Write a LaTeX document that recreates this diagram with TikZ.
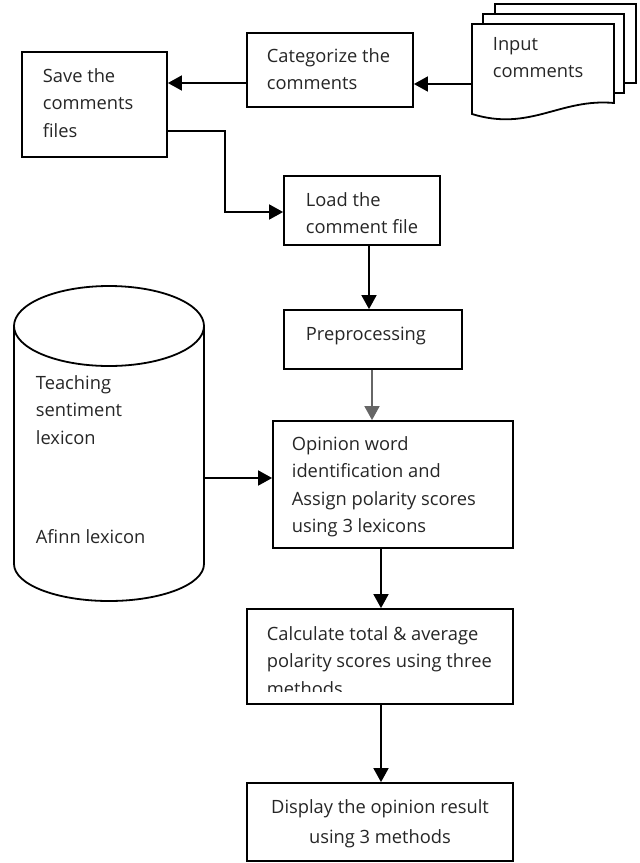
\documentclass[tikz,border=0pt]{standalone}
\usepackage{fontspec}
\setmainfont{Open Sans}
\usetikzlibrary{arrows.meta}
\newcommand\fsz{\fontsize{18.3}{27.5}\selectfont}
\newcommand\fsy{\fontsize{18.3}{30}\selectfont}
\newcommand\lines[1]{\begin{tabular}[t]{@{}l@{}}#1\end{tabular}}
\newcommand\clines[1]{\begin{tabular}[t]{@{}c@{}}#1\end{tabular}}
\begin{document}
\begin{tikzpicture}[x=1pt,y=-1pt,line width=1.8pt,
  box/.style={draw=black,rectangle,inner sep=0pt,fill=white},
  txt/.style={anchor=base west,inner sep=0pt,font=\fsz,text=black!85},
  sheet/.style={draw=black,fill=white},
  arr/.style={-{Triangle[length=14pt,width=15pt]},line width=1.8pt}]
\useasboundingbox (0,0) rectangle (640,863);
% input document stack
\draw[sheet] (495,4) rectangle (636,83);
\draw[sheet] (483,14) rectangle (624,93);
\draw[sheet] (472,24) -- (614,24) -- (614,103)
  .. controls (560,98) and (530,132) .. (472,114) -- cycle;
\node[txt] (input) at (492,50) {\lines{Input\\comments}};
\coordinate (inW) at (472,84);
% boxes
\node[box,minimum width=166pt,minimum height=74pt] (cat) at (330,70) {};
\node[txt] (catT) at (266,62) {\lines{Categorize the\\comments}};
\node[box,minimum width=145pt,minimum height=105pt] (save) at (94.5,104.5) {};
\node[txt] (saveT) at (42,82) {\lines{Save the\\comments\\files}};
\node[box,minimum width=156pt,minimum height=69pt] (load) at (362,210.5) {};
\node[txt] (loadT) at (305,206) {\lines{Load the\\comment file}};
\node[box,minimum width=178pt,minimum height=59pt] (prep) at (373,339.5) {};
\node[txt] (prepT) at (305,340) {Preprocessing};
\node[box,minimum width=240pt,minimum height=127pt] (op) at (393,484.5) {};
\node[txt] (opT) at (291,450) {\lines{Opinion word\\identification and\\Assign polarity scores\\using 3 lexicons}};
\node[box,minimum width=266pt,minimum height=95pt] (calc) at (380,656.5) {};
\begin{scope}
\clip (248,610) rectangle (512,691);
\node[txt] (calcT) at (266,640) {\lines{Calculate total \& average\\polarity scores using three\\methods}};
\end{scope}
\node[box,minimum width=266pt,minimum height=78pt] (disp) at (380,822) {};
\node[txt,anchor=base,font=\fsy] (dispT) at (380,813) {\clines{Display the opinion result\\using 3 methods}};
% cylinder
\draw[fill=white] (14,326) -- (14,564) arc[start angle=180,end angle=0,x radius=95,y radius=37] -- (204,326);
\draw (109,326) ellipse[x radius=95,y radius=40];
\node[txt] (lexA) at (35,389) {\lines{Teaching\\sentiment\\lexicon}};
\node[txt] (lexB) at (35,543) {Afinn lexicon};
\coordinate (cylE) at (204,478);
% connectors
\draw[arr] (inW) -- (inW -| cat.east);
\draw[arr] (cat.west |- 0,83) -- (save.east |- 0,83);
\draw[arr] (save.east |- 0,131) -- (225,131) -- (225,212) -- (load.west |- 0,212);
\draw[arr] (load.south -| 369,0) -- (prep.north -| 369,0);
\draw[arr,draw=black!60] (prep.south -| 372,0) -- (op.north -| 372,0);
\draw[arr] (cylE) -- (op.west |- cylE);
\draw[arr] (op.south -| 381,0) -- (calc.north -| 381,0);
\draw[arr] (calc.south -| 381,0) -- (disp.north -| 381,0);
\end{tikzpicture}
\end{document}
